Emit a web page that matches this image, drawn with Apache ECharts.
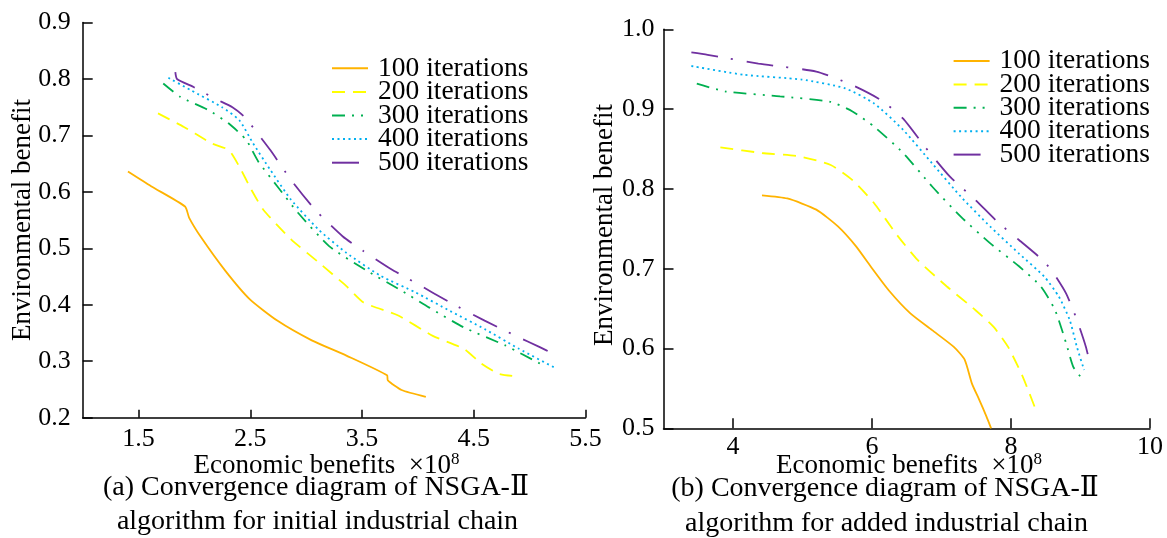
<!DOCTYPE html>
<html>
<head>
<meta charset="utf-8">
<script src="https://cdn.jsdelivr.net/npm/echarts@6/dist/echarts.min.js"></script>
<style>
html,body{margin:0;padding:0;background:#fff;}
#c{width:1167px;height:538px;}
</style>
</head>
<body>
<div id="c"></div>
<script>
// ---------- data ----------
const seriesNames = ['100 iterations','200 iterations','300 iterations','400 iterations','500 iterations'];

// (a) initial industrial chain  [economic benefit (x1e8), environmental benefit]
const a100 = [[1.405,0.636],[1.612,0.610],[1.916,0.574],[1.953,0.554],[2.061,0.519],[2.277,0.460],[2.494,0.410],[2.741,0.372],[3.05,0.337],[3.36,0.310],[3.724,0.275],[3.731,0.266],[3.854,0.249],[4.071,0.237]];
const a200 = [[1.674,0.739],[1.906,0.715],[2.154,0.686],[2.308,0.674],[2.401,0.645],[2.509,0.604],[2.618,0.568],[2.865,0.516],[3.112,0.475],[3.36,0.433],[3.514,0.404],[3.824,0.381],[4.133,0.345],[4.411,0.322],[4.566,0.296],[4.72,0.278],[4.844,0.274]];
const a300 = [[1.721,0.792],[1.876,0.768],[2.123,0.745],[2.308,0.721],[2.463,0.692],[2.571,0.654],[2.741,0.610],[2.927,0.563],[3.205,0.504],[3.545,0.460],[3.854,0.425],[4.102,0.395],[4.411,0.360],[4.782,0.328],[5.091,0.296]];
const a400 = [[1.767,0.802],[1.968,0.780],[2.247,0.750],[2.401,0.727],[2.525,0.686],[2.679,0.639],[2.865,0.586],[3.112,0.533],[3.36,0.492],[3.669,0.451],[3.978,0.422],[4.288,0.389],[4.597,0.357],[4.905,0.322],[5.23,0.288]];
const a500 = [[1.829,0.812],[1.844,0.800],[1.999,0.785],[2.185,0.765],[2.340,0.750],[2.447,0.733],[2.556,0.706],[2.679,0.674],[2.865,0.621],[3.082,0.568],[3.328,0.521],[3.514,0.495],[3.762,0.463],[3.978,0.439],[4.288,0.404],[4.597,0.372],[4.875,0.345],[5.091,0.325],[5.215,0.313]];

// (b) added industrial chain
const b100 = [[4.417,0.792],[4.781,0.788],[5.198,0.774],[5.51,0.753],[5.771,0.728],[5.979,0.703],[6.24,0.673],[6.552,0.644],[6.865,0.623],[7.177,0.602],[7.333,0.586],[7.438,0.556],[7.542,0.536],[7.646,0.515],[7.714,0.500]];
const b200 = [[3.818,0.852],[4.417,0.845],[4.938,0.841],[5.406,0.830],[5.719,0.811],[6.031,0.782],[6.344,0.744],[6.656,0.711],[7.073,0.678],[7.49,0.648],[7.75,0.627],[7.958,0.602],[8.167,0.565],[8.375,0.519]];
const b300 = [[3.479,0.932],[3.896,0.922],[4.677,0.916],[5.406,0.909],[5.719,0.897],[6.031,0.878],[6.448,0.845],[6.865,0.803],[7.281,0.765],[7.698,0.732],[8.115,0.703],[8.427,0.678],[8.635,0.648],[8.792,0.607],[8.896,0.577],[9.016,0.563]];
const b400 = [[3.401,0.954],[4.156,0.943],[4.99,0.937],[5.615,0.926],[6.031,0.907],[6.448,0.874],[6.865,0.832],[7.281,0.790],[7.698,0.753],[8.115,0.719],[8.479,0.690],[8.688,0.665],[8.844,0.636],[8.948,0.602],[9.052,0.573]];
const b500 = [[3.401,0.971],[3.635,0.968],[4.365,0.957],[5.198,0.947],[5.719,0.930],[6.135,0.911],[6.448,0.888],[6.76,0.853],[7.125,0.815],[7.49,0.786],[7.802,0.759],[8.115,0.736],[8.427,0.713],[8.583,0.698],[8.792,0.669],[8.948,0.636],[9.078,0.602],[9.141,0.579]];

// axis ticks
const aXTicks = [1.5, 2.5, 3.5, 4.5, 5.5];
const bXTicks = [4, 6, 8, 10];

// texts
const xTitle = 'Economic benefits  ×10';
const xTitleSup = '8';
const yTitle = 'Environmental benefit';
const capA = ['(a) Convergence diagram of NSGA-Ⅱ', 'algorithm for initial industrial chain'];
const capB = ['(b) Convergence diagram of NSGA-Ⅱ', 'algorithm for added industrial chain'];

// ---------- styles ----------
const FONT = 'Liberation Serif, DejaVu Serif, serif';
const colors = ['#FFB300', '#FFFF00', '#00B050', '#00B0F0', '#7030A0'];
const dashes = ['solid', [13, 8], [13, 7, 2, 7, 2, 7], [2, 3.5], [27, 13, 2, 14]];

const chart = echarts.init(document.getElementById('c'), null, {renderer: 'canvas'});

function xAxisCfg(gi, min, max, ticks, fmt, margin, tickLen) {
  return {
    gridIndex: gi, type: 'value', min: min, max: max,
    axisLine: {show: true, lineStyle: {color: '#000', width: 1.5}},
    axisTick: {show: true, inside: true, length: tickLen, customValues: ticks, lineStyle: {color: '#000', width: 1.5}},
    axisLabel: {show: true, customValues: ticks, margin: margin, color: '#000', fontFamily: FONT, fontSize: 26, formatter: fmt},
    splitLine: {show: false}
  };
}
function yAxisCfg(gi, min, max, margin) {
  return {
    gridIndex: gi, type: 'value', min: min, max: max, interval: 0.1,
    axisLine: {show: true, lineStyle: {color: '#000', width: 1.5}},
    axisTick: {show: true, inside: true, length: 10, lineStyle: {color: '#000', width: 1.5}},
    axisLabel: {show: true, margin: margin, color: '#000', fontFamily: FONT, fontSize: 26, formatter: v => v.toFixed(1)},
    splitLine: {show: false}
  };
}

const aData = [a100, a200, a300, a400, a500];
const bData = [b100, b200, b300, b400, b500];
const series = [];
[aData, bData].forEach((set, gi) => {
  set.forEach((d, i) => {
    series.push({
      name: seriesNames[i], type: 'line', xAxisIndex: gi, yAxisIndex: gi,
      data: d, symbol: 'none', smooth: 0.2,
      lineStyle: {color: colors[i], width: 1.8, type: dashes[i], cap: 'butt'},
      itemStyle: {color: colors[i]},
      silent: true
    });
  });
});

function legendCfg(left, top, gap) {
  return {
    orient: 'vertical', left: left, top: top, padding: 0,
    itemWidth: 36, itemHeight: 14, itemGap: gap,
    selectedMode: false,
    itemStyle: {opacity: 0},
    data: seriesNames,
    textStyle: {fontFamily: FONT, fontSize: 27.5, color: '#000', padding: [0, 0, 0, 5]}
  };
}

function txt(x, y, text, size, rot) {
  return {
    type: 'text', x: x, y: y, rotation: rot || 0, silent: true,
    style: {text: text, fill: '#000', fontFamily: FONT, fontSize: size, align: 'center', verticalAlign: 'middle'}
  };
}
function xTitleG(x, y) {
  return {
    type: 'text', x: x, y: y, silent: true,
    style: {
      text: '{n|' + xTitle + '}{s|' + xTitleSup + '}',
      align: 'center', verticalAlign: 'middle',
      rich: {
        n: {fontFamily: FONT, fontSize: 27, color: '#000', lineHeight: 30},
        s: {fontFamily: FONT, fontSize: 17, color: '#000', verticalAlign: 'top', lineHeight: 17}
      }
    }
  };
}

chart.setOption({
  backgroundColor: '#fff',
  animation: false,
  grid: [
    {left: 82.7, top: 22.5, width: 502.8, height: 395.2, containLabel: false},
    {left: 663.5, top: 29.3, width: 486.5, height: 399, containLabel: false}
  ],
  xAxis: [
    xAxisCfg(0, 1, 5.5, aXTicks, v => v.toFixed(1), 8, 8),
    xAxisCfg(1, 3, 10, bXTicks, v => String(v), 6, 10)
  ],
  yAxis: [
    yAxisCfg(0, 0.2, 0.9, 12),
    yAxisCfg(1, 0.5, 1.0, 9)
  ],
  legend: [legendCfg(331, 54.3, -4.4), legendCfg(952.6, 47, -4.6)],
  series: series,
  graphic: [
    txt(23, 220, yTitle, 27, Math.PI / 2),
    txt(605, 225, yTitle, 27, Math.PI / 2),
    xTitleG(326.5, 466),
    xTitleG(909, 466),
    txt(316, 488, capA[0], 28),
    txt(317.5, 522, capA[1], 28),
    txt(885, 489, capB[0], 28),
    txt(886.5, 524, capB[1], 28)
  ]
});
</script>
</body>
</html>
